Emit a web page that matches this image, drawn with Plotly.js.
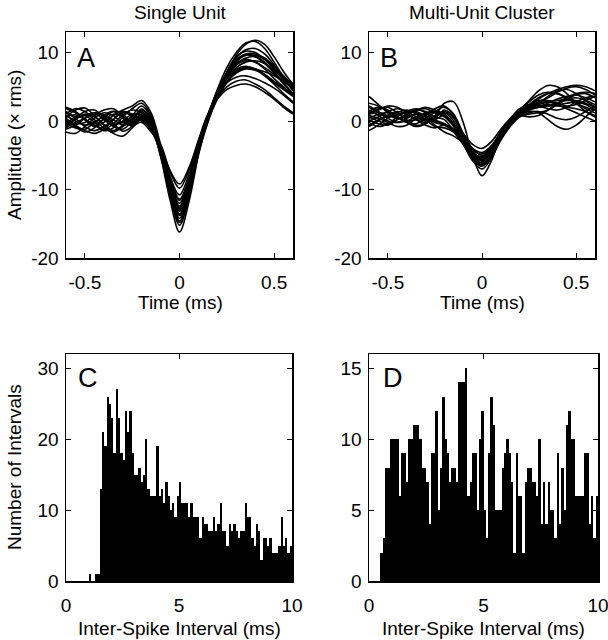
<!DOCTYPE html>
<html><head><meta charset="utf-8">
<script src="https://cdn.plot.ly/plotly-3.0.1.min.js"></script>
<style>html,body{margin:0;padding:0;background:#fff}#plot{width:608px;height:640px}</style>
</head><body><div id="plot"></div><script>
// ---------- data ----------
const timeMs = [-0.6,-0.55,-0.5,-0.45,-0.4,-0.35,-0.3,-0.25,-0.2,-0.15,-0.1,-0.05,0,0.05,0.1,0.15,0.2,0.25,0.3,0.35,0.4,0.45,0.5,0.55,0.6];

const singleUnitWaves = [
 [1.8,1.2,0.3,-0.6,-1.2,-0.4,0.9,1.6,1.2,-0.6,-5.2,-11.5,-16.2,-11.8,-5.0,0.2,3.8,6.4,8.2,9.2,9.4,8.6,7.2,5.6,4.0],
 [0.5,1.6,1.9,0.8,-0.5,-1.4,-0.6,0.8,2.2,0.4,-4.6,-10.4,-14.8,-10.8,-4.6,0.4,4.2,7.2,9.4,10.2,10.0,9.0,7.6,6.0,4.6],
 [-1.2,-0.6,0.4,1.2,0.9,-0.3,-1.5,-0.8,0.6,-0.9,-4.2,-9.4,-13.6,-10.0,-4.2,0.6,4.6,7.8,10.0,11.4,11.6,10.6,8.6,6.4,4.4],
 [0.2,-0.8,-1.6,-1.0,0.4,1.4,1.0,-0.2,0.8,-0.4,-3.8,-8.6,-12.4,-9.0,-3.8,0.8,4.0,6.4,7.6,8.0,7.6,6.6,5.4,4.0,2.8],
 [2.0,1.4,0.2,-0.8,-0.2,0.8,1.6,2.2,3.0,1.2,-3.4,-8.0,-11.4,-8.4,-3.6,0.6,3.6,5.8,7.2,7.8,7.6,6.8,5.6,4.6,3.6],
 [-0.8,0.2,1.0,0.6,-0.6,-1.8,-2.2,-1.0,0.4,-1.0,-4.0,-8.2,-10.8,-7.8,-3.2,1.0,3.8,5.6,6.4,6.6,6.2,5.6,4.8,3.8,2.6],
 [0.8,0.0,-0.6,-0.2,0.8,1.4,0.4,-0.8,0.2,-1.2,-3.6,-7.4,-9.8,-7.2,-3.0,0.8,3.4,5.0,5.8,6.0,5.4,4.6,3.4,2.2,1.2],
 [-1.6,-1.8,-0.8,0.4,1.2,0.8,-0.2,0.2,1.4,-0.2,-4.4,-9.6,-13.0,-9.6,-4.0,0.4,4.4,7.0,9.0,9.8,9.8,9.2,8.0,6.6,5.2],
 [1.0,1.8,1.4,0.2,-1.0,-1.6,-0.8,0.4,1.6,0.2,-4.0,-9.0,-12.0,-8.8,-3.8,0.8,4.4,6.8,8.4,9.0,8.6,7.6,6.2,5.0,3.8],
 [0.0,-0.4,-0.2,0.8,1.6,1.8,0.8,-0.4,0.6,-0.8,-4.8,-10.2,-14.2,-10.4,-4.4,0.2,3.8,6.6,8.6,9.6,9.4,8.4,7.0,5.4,4.0],
 [-0.4,0.6,0.8,-0.2,-1.4,-1.0,0.6,1.8,2.6,0.8,-3.8,-8.8,-12.8,-9.4,-4.0,0.4,4.0,6.2,7.8,8.6,8.8,8.4,7.4,6.2,5.0],
 [1.4,0.4,-0.8,-1.4,-0.8,0.2,1.2,0.8,0.2,-1.4,-4.6,-9.8,-13.8,-10.0,-4.2,0.0,3.2,5.6,7.0,7.6,7.4,6.8,5.8,4.8,3.8],
 [-0.2,-1.0,-1.2,-0.2,0.6,0.2,-0.6,-0.2,1.0,-0.6,-5.0,-10.8,-15.2,-11.2,-4.8,-0.2,3.6,6.8,9.6,11.2,11.8,11.2,9.4,7.2,5.4],
 [0.6,0.9,0.2,-0.4,0.2,1.0,0.6,-0.6,-0.2,-1.6,-3.4,-7.2,-9.2,-6.8,-2.8,1.0,3.2,4.6,5.2,5.4,5.0,4.2,3.2,2.0,1.0],
 [-1.0,-0.2,0.4,1.0,0.4,-0.8,-1.2,0.0,1.8,0.0,-4.2,-9.2,-12.6,-9.2,-3.8,0.6,4.2,6.8,8.8,9.6,9.6,9.0,7.8,6.4,5.2],
 [1.2,0.6,0.8,1.2,0.2,-0.6,0.0,1.0,0.8,-0.8,-4.4,-9.4,-13.2,-9.6,-4.0,0.4,4.0,6.2,7.4,7.8,7.6,7.2,6.6,5.8,5.0],
 [0.4,-0.6,-1.4,-1.8,-1.2,0.2,1.4,1.0,0.0,-1.0,-4.0,-8.6,-11.6,-8.6,-3.6,0.8,4.2,6.6,8.2,8.8,8.6,7.8,6.8,5.8,4.8],
 [-0.6,0.4,1.4,1.6,0.6,-0.4,-0.2,0.6,1.2,-0.4,-4.6,-10.0,-14.6,-10.6,-4.4,0.2,4.0,7.0,9.2,10.4,10.6,9.8,8.2,6.4,4.8]
];

const multiUnitWaves = [
 [3.6,2.4,1.2,0.4,0.8,1.6,1.4,0.6,0.2,-1.4,-3.0,-5.4,-6.4,-5.0,-2.4,-0.4,1.0,1.8,2.4,2.8,3.0,3.2,3.4,3.0,2.4],
 [-1.4,-0.6,0.4,1.2,1.6,1.0,0.2,0.8,2.6,2.8,-0.2,-5.0,-8.0,-5.8,-2.0,0.2,0.8,0.6,0.8,1.6,2.6,3.4,4.0,4.2,4.0],
 [1.0,1.8,2.0,1.2,0.2,-0.6,-0.4,0.6,1.2,0.0,-2.4,-4.6,-5.2,-3.8,-1.6,0.2,1.6,3.0,4.4,5.2,5.0,4.0,2.6,1.4,0.6],
 [0.2,-0.4,-0.6,0.2,1.0,1.4,0.6,-0.6,-1.6,-2.2,-3.2,-4.6,-5.6,-4.4,-2.2,-0.4,0.8,1.4,1.2,0.2,-0.8,-1.2,-0.6,0.6,1.8],
 [2.0,1.2,0.6,0.8,1.4,1.8,1.2,0.2,-0.4,-1.2,-2.6,-4.0,-4.6,-3.6,-1.6,0.2,1.4,2.2,2.8,3.4,4.2,4.8,5.0,4.6,3.8],
 [-0.6,0.2,0.8,0.6,-0.2,-0.8,-0.4,0.6,1.4,0.4,-1.8,-3.4,-4.0,-3.0,-1.2,0.4,1.8,2.4,2.2,1.8,1.6,2.0,2.8,3.4,3.6],
 [0.8,0.4,-0.2,-0.8,-0.6,0.4,1.2,1.4,0.8,-0.6,-2.8,-5.2,-6.4,-5.0,-2.6,-0.6,0.8,1.6,2.0,2.2,2.2,2.0,1.8,1.4,0.8],
 [1.4,2.0,1.6,0.6,0.0,0.2,0.8,1.8,2.2,0.8,-2.0,-4.4,-5.6,-4.2,-1.8,0.0,1.2,1.8,2.6,3.6,4.4,4.6,4.0,3.0,2.0],
 [-0.2,-0.8,-0.4,0.6,1.4,1.2,0.2,-0.8,-1.0,-1.6,-3.0,-5.0,-5.8,-4.6,-2.4,-0.4,1.0,2.0,2.6,2.8,2.4,1.8,1.2,0.6,0.0],
 [2.6,2.2,1.4,1.0,1.2,1.6,2.0,1.6,1.0,-0.4,-2.6,-4.8,-5.4,-4.0,-1.8,0.0,1.4,2.4,3.0,3.0,2.6,2.2,2.4,3.0,3.6],
 [0.4,1.0,1.2,0.6,-0.2,-0.4,0.4,1.2,1.0,-0.8,-3.2,-5.6,-6.6,-5.2,-2.8,-0.8,0.6,1.2,1.4,1.0,0.4,0.2,0.6,1.4,2.2],
 [1.6,0.8,0.0,-0.2,0.4,1.0,0.8,0.0,-0.4,-1.6,-3.4,-5.4,-6.0,-4.6,-2.2,-0.2,1.2,2.2,3.2,4.0,4.6,5.0,5.2,5.0,4.4],
 [0.0,0.6,1.4,1.8,1.4,0.6,0.0,0.4,1.6,0.6,-2.2,-4.2,-4.8,-3.8,-1.8,0.0,1.2,1.8,2.0,2.2,2.6,3.0,3.0,2.6,2.0],
 [1.2,1.6,2.2,2.0,1.2,0.2,-0.6,-1.0,-0.6,-1.4,-3.0,-4.6,-5.2,-4.0,-2.0,-0.2,1.0,1.8,2.2,2.4,2.4,2.6,2.8,2.4,1.6],
 [0.6,0.0,-0.4,0.2,1.0,1.6,1.8,1.2,0.6,-0.8,-3.0,-5.0,-6.2,-5.0,-2.4,-0.6,0.6,1.0,1.2,1.6,2.4,3.2,3.8,4.0,3.4],
 [2.2,1.4,0.4,-0.2,0.0,0.6,1.0,1.4,2.0,1.0,-1.8,-4.0,-5.0,-3.8,-1.6,0.2,1.6,2.8,3.8,4.2,4.0,3.4,2.6,1.8,1.2],
 [1.0,1.2,0.8,0.4,0.6,1.0,0.6,-0.2,-0.6,-1.6,-3.4,-5.8,-7.0,-5.4,-2.6,-0.4,0.8,1.6,2.0,2.6,3.2,3.6,3.8,3.4,2.8],
 [-0.8,0.0,0.8,1.4,1.0,0.2,-0.2,0.2,0.8,-0.4,-2.6,-4.8,-5.8,-4.4,-2.0,0.0,1.4,2.4,3.4,4.0,4.0,3.4,2.6,2.0,1.6]
];

// inter-spike interval histograms: 100 bins of 0.1 ms from 0 to 10 ms
const isiBinStart = 0;
const isiBinWidth = 0.1;
const singleUnitISI = [
 0,0,0,0,0,0,0,0,0,0,
 1,0,0,1,1,13,21,19,26,25,
 23,18,27,23,18,17,24,21,24,18,
 15,15,16,14,15,20,13,12,12,12,
 19,12,13,11,14,12,10,11,9,12,
 14,11,11,11,9,11,9,9,9,6,
 9,8,8,7,7,9,7,8,11,7,
 7,5,8,7,8,7,6,7,7,11,
 9,9,6,5,8,7,3,6,6,5,
 6,4,4,4,5,9,5,6,4,5
];
const multiUnitISI = [
 0,0,0,0,0,2,3,8,8,10,
 10,10,10,6,9,9,7,10,10,11,
 11,11,10,8,8,7,4,9,9,12,
 5,8,13,10,9,7,8,8,7,14,
 14,14,15,6,7,9,9,5,10,12,
 5,3,9,13,11,5,5,5,8,9,
 10,9,7,2,9,6,6,2,7,8,
 8,7,7,6,10,4,7,4,7,5,
 5,3,9,4,8,5,11,12,10,10,
 6,6,6,6,9,9,4,6,3,6
];

const panelTitles = ['Single Unit', 'Multi-Unit Cluster'];
const panelLetters = ['A', 'B', 'C', 'D'];
const waveXTicks = [-0.5, 0, 0.5];
const waveXTickText = ['-0.5', '0', '0.5'];
const waveYTicks = [-20, -10, 0, 10];
const waveYTickText = ['-20', '-10', '0', '10'];
const isiXTicks = [0, 5, 10];
const isiXTickText = ['0', '5', '10'];
const isiYTicksC = [0, 10, 20, 30];
const isiYTicksD = [0, 5, 10, 15];

// ---------- layout helpers ----------
const W = 608, H = 640;
const px = v => v / W;
const py = v => 1 - v / H;
const FONT = 'Liberation Sans, Arial, Helvetica, sans-serif';

function axis(domain, range, tickvals, ticktext, anchor, isY) {
  return {
    domain, range, tickvals, ticktext, anchor,
    ticks: 'inside', ticklen: 5, tickwidth: 1, tickcolor: '#000',
    mirror: 'ticks', showline: true, linecolor: '#000', linewidth: 1.5,
    showgrid: false, zeroline: false, fixedrange: true,
    ticklabelstandoff: isY ? 2 : 7,
    ticklabeloverflow: 'allow',
    tickfont: {family: FONT, size: 19, color: '#000'}
  };
}

const traces = [];
singleUnitWaves.forEach(w => traces.push({
  type: 'scatter', mode: 'lines', x: timeMs, y: w, xaxis: 'x', yaxis: 'y',
  line: {color: '#000', width: 1.6, shape: 'spline', smoothing: 1}, hoverinfo: 'skip'
}));
multiUnitWaves.forEach(w => traces.push({
  type: 'scatter', mode: 'lines', x: timeMs, y: w, xaxis: 'x2', yaxis: 'y2',
  line: {color: '#000', width: 1.6, shape: 'spline', smoothing: 1}, hoverinfo: 'skip'
}));
const centers = arr => arr.map((_, i) => isiBinStart + isiBinWidth * (i + 0.5));
traces.push({type: 'bar', x: centers(singleUnitISI), y: singleUnitISI, width: isiBinWidth,
  xaxis: 'x3', yaxis: 'y3', marker: {color: '#000', line: {width: 0}}, hoverinfo: 'skip'});
traces.push({type: 'bar', x: centers(multiUnitISI), y: multiUnitISI, width: isiBinWidth,
  xaxis: 'x4', yaxis: 'y4', marker: {color: '#000', line: {width: 0}}, hoverinfo: 'skip'});

const topY = [py(258), py(32)];
const botY = [py(581), py(354)];

const ann = (text, x, y, size, extra) => Object.assign({
  text, x, y, xref: 'paper', yref: 'paper', showarrow: false,
  xanchor: 'center', yanchor: 'middle', font: {family: FONT, size, color: '#000'}
}, extra || {});

const layout = {
  width: W, height: H, margin: {l: 0, r: 0, t: 0, b: 0},
  paper_bgcolor: '#fff', plot_bgcolor: '#fff', showlegend: false, bargap: 0,
  xaxis:  axis([px(66), px(293)], [-0.6, 0.6], waveXTicks, waveXTickText, 'y', false),
  yaxis:  axis(topY, [-20, 13], waveYTicks, waveYTickText, 'x', true),
  xaxis2: axis([px(369), px(595)], [-0.6, 0.6], waveXTicks, waveXTickText, 'y2', false),
  yaxis2: axis(topY, [-20, 13], waveYTicks, waveYTickText, 'x2', true),
  xaxis3: axis([px(66), px(292)], [0, 10], isiXTicks, isiXTickText, 'y3', false),
  yaxis3: axis(botY, [0, 32], isiYTicksC, isiYTicksC.map(String), 'x3', true),
  xaxis4: axis([px(369), px(598)], [0, 10], isiXTicks, isiXTickText, 'y4', false),
  yaxis4: axis(botY, [0, 16], isiYTicksD, isiYTicksD.map(String), 'x4', true),
  annotations: [
    ann(panelTitles[0], px(180), py(13), 19),
    ann(panelTitles[1], px(482), py(13), 19),
    ann('Time (ms)', px(180), py(302), 19),
    ann('Time (ms)', px(482), py(302), 19),
    ann('Inter-Spike Interval (ms)', px(179), py(628), 19),
    ann('Inter-Spike Interval (ms)', px(483), py(628), 19),
    ann('Amplitude (\u00d7 rms)', px(14), py(145), 19, {textangle: -90}),
    ann('Number of Intervals', px(14), py(467), 19, {textangle: -90}),
    ann(panelLetters[0], px(75), py(58), 27, {xanchor: 'left'}),
    ann(panelLetters[1], px(378), py(58), 27, {xanchor: 'left'}),
    ann(panelLetters[2], px(76), py(378), 27, {xanchor: 'left'}),
    ann(panelLetters[3], px(381), py(378), 27, {xanchor: 'left'})
  ]
};

Plotly.newPlot('plot', traces, layout, {staticPlot: true, displayModeBar: false});
</script></body></html>
